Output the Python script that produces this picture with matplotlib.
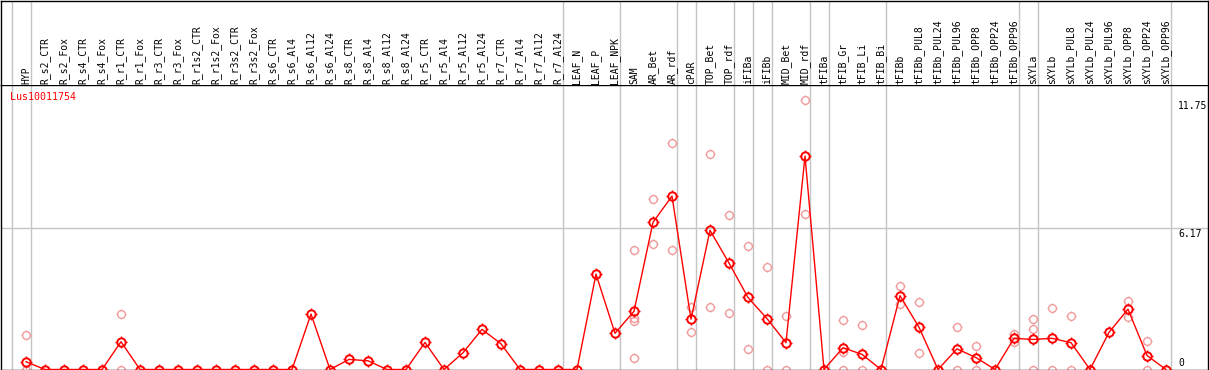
import matplotlib
matplotlib.use("Agg")
import matplotlib.pyplot as plt
from matplotlib.path import Path
from matplotlib.transforms import blended_transform_factory, offset_copy

# ---------------- data ----------------
gene_name = "Lus10011754"

categories = [
    "HYP", "R_s2_CTR", "R_s2_Fox", "R_s4_CTR", "R_s4_Fox", "R_r1_CTR", "R_r1_Fox",
    "R_r3_CTR", "R_r3_Fox", "R_r1s2_CTR", "R_r1s2_Fox", "R_r3s2_CTR", "R_r3s2_Fox",
    "R_s6_CTR", "R_s6_Al4", "R_s6_Al12", "R_s6_Al24", "R_s8_CTR", "R_s8_Al4",
    "R_s8_Al12", "R_s8_Al24", "R_r5_CTR", "R_r5_Al4", "R_r5_Al12", "R_r5_Al24",
    "R_r7_CTR", "R_r7_Al4", "R_r7_Al12", "R_r7_Al24", "LEAF_N", "LEAF_P", "LEAF_NPK",
    "SAM", "AR_Bet", "AR_rdf", "cPAR", "TOP_Bet", "TOP_rdf", "iFIBa", "iFIBb",
    "MID_Bet", "MID_rdf", "tFIBa", "tFIB_Gr", "tFIB_Li", "tFIB_Bi", "tFIBb",
    "tFIBb_PUL8", "tFIBb_PUL24", "tFIBb_PUL96", "tFIBb_OPP8", "tFIBb_OPP24",
    "tFIBb_OPP96", "sXYLa", "sXYLb", "sXYLb_PUL8", "sXYLb_PUL24", "sXYLb_PUL96",
    "sXYLb_OPP8", "sXYLb_OPP24", "sXYLb_OPP96",
]

mean_values = [
    0.34, 0, 0, 0, 0, 1.21, 0, 0, 0, 0, 0, 0, 0, 0, 0, 2.42, 0, 0.44, 0.38, 0, 0,
    1.18, 0, 0.73, 1.75, 1.12, 0, 0, 0, 0, 4.16, 1.58, 2.54, 6.42, 7.56, 2.19,
    6.07, 4.64, 3.14, 2.22, 1.17, 9.31, 0, 0.95, 0.66, 0, 3.22, 1.84, 0, 0.90,
    0.52, 0, 1.36, 1.31, 1.36, 1.17, 0, 1.62, 2.63, 0.61, 0,
]

replicate_values = [
    [1.52, 0], [], [], [], [], [2.44, 0], [], [], [], [], [], [], [], [], [], [],
    [], [], [], [], [], [], [], [], [], [], [], [], [], [], [], [],
    [5.19, 2.26, 2.11, 0.48], [7.43, 5.46], [9.88, 5.19], [2.73, 1.65],
    [9.40, 2.74], [6.73, 2.48], [5.37, 0.91], [4.49, 0], [2.35, 0], [11.75, 6.77],
    [], [2.14, 0.76, 0], [1.96, 0], [], [3.63, 2.84], [2.93, 0.73], [], [1.87, 0],
    [1.04, 0], [], [1.53, 1.18], [2.19, 1.78, 0], [2.70, 0], [2.35, 0], [],
    [], [2.98, 2.28], [1.26, 0], [],
]

# index of last sample in each group (-1 = left edge line)
group_ends = [-1, 0, 28, 31, 34, 35, 37, 38, 39, 41, 42, 45, 52, 53, 60]

y_max_label = 11.75
y_mid_label = 6.17

# ---------------- style ----------------
W, H = 1209, 370
RED = "#FF0000"
PINK = "#F09A9A"
GRID = "#C4C4C4"
MONO = "DejaVu Sans Mono"

fig = plt.figure(figsize=(W / 100, H / 100), dpi=100)
fig.patch.set_facecolor("white")

left_px, right_px = 1.0, 1207.5
top_label_px = 85.0
bottom_px = 369.5

ax = fig.add_axes([left_px / W, (H - bottom_px) / H,
                   (right_px - left_px) / W, (bottom_px - top_label_px) / H])
axl = fig.add_axes([left_px / W, (H - top_label_px) / H,
                    (right_px - left_px) / W, (top_label_px - 0.5) / H], sharex=ax)

px0, dpx = 26.0, 19.0
ax.set_xlim((left_px - px0) / dpx, (right_px - px0) / dpx)
px_per_unit = (bottom_px - 228.0) / y_mid_label
ax.set_ylim(0, (bottom_px - top_label_px) / px_per_unit)
axl.set_ylim(0, 1)

for a in (ax, axl):
    a.set_xticks([])
    a.set_yticks([])
    for s in a.spines.values():
        s.set_color("black")
        s.set_linewidth(1.0)
axl.spines["bottom"].set_visible(False)

# separators
for g in group_ends:
    for a in (ax, axl):
        a.axvline(g + 0.25, color=GRID, lw=1.0, zorder=0)
ax.axhline(y_mid_label, color=GRID, lw=1.0, zorder=0)

# tick marker: four short ticks around the circle
verts, codes = [], []
for dx, dy in [(1, 0), (-1, 0), (0, 1), (0, -1)]:
    verts += [(dx * 1.0, dy * 1.0), (dx * 1.4, dy * 1.4)]
    codes += [Path.MOVETO, Path.LINETO]
tick_marker = Path(verts, codes)

xs = list(range(len(categories)))

# replicates
rx, ry = [], []
for i, reps in enumerate(replicate_values):
    for v in reps:
        rx.append(i)
        ry.append(v)
ax.plot(rx, ry, linestyle="none", marker="o", markersize=5.6,
        markerfacecolor="none", markeredgecolor=PINK, markeredgewidth=1.0,
        zorder=2, clip_on=False)
ax.plot(rx, ry, linestyle="none", marker=tick_marker, markersize=7.6,
        markeredgecolor=PINK, markeredgewidth=0.9, zorder=2, clip_on=False)

# mean line
ax.plot(xs, mean_values, color=RED, lw=1.0, marker="o", markersize=6.0,
        markerfacecolor="none", markeredgecolor=RED, markeredgewidth=1.4,
        zorder=3, clip_on=False)
ax.plot(xs, mean_values, linestyle="none", marker=tick_marker, markersize=8.0,
        markeredgecolor=RED, markeredgewidth=1.0, zorder=3, clip_on=False)

# category labels
tl = blended_transform_factory(axl.transData, axl.transAxes)
tl = offset_copy(tl, fig=fig, x=0, y=1.5, units="dots")
for i, lab in enumerate(categories):
    axl.text(i, 0, lab, rotation=90, ha="center", va="bottom",
             fontsize=7, family=MONO, color="black", transform=tl)

# gene name
ax.text(9.0 / (right_px - left_px), 1 - 7.0 / (bottom_px - top_label_px), gene_name,
        transform=ax.transAxes, ha="left", va="top", fontsize=7.2,
        family=MONO, color=RED)

# right scale labels
ty = ax.get_yaxis_transform()
xl = (1178.0 - left_px) / (right_px - left_px)
ax.text(xl, y_max_label, f"{y_max_label:.2f}", transform=offset_copy(ty, fig=fig, y=-1, units="dots"),
        ha="left", va="top", fontsize=7, family=MONO, color="black")
ax.text(xl, y_mid_label, f"{y_mid_label:.2f}", transform=offset_copy(ty, fig=fig, y=-1, units="dots"),
        ha="left", va="top", fontsize=7, family=MONO, color="black")
ax.text(xl, 0, "0", transform=offset_copy(ty, fig=fig, y=2, units="dots"),
        ha="left", va="bottom", fontsize=7, family=MONO, color="black")

fig.savefig("out.png", dpi=100, facecolor="white")
